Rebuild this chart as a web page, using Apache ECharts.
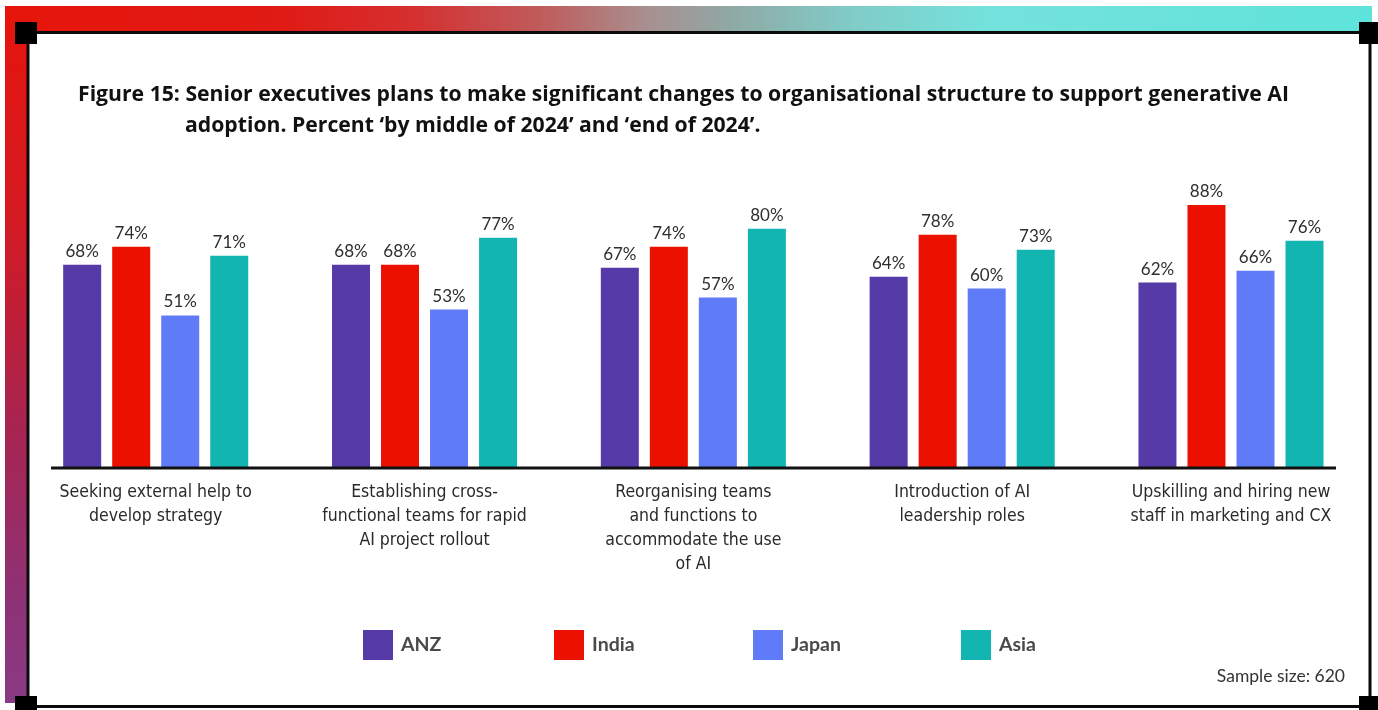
<!DOCTYPE html>
<html>
<head>
<meta charset="utf-8">
<script src="https://cdn.jsdelivr.net/npm/echarts@6/dist/echarts.min.js"></script>
<style>
  html, body { margin: 0; padding: 0; background: #fff; }
  #chart { width: 1378px; height: 710px; }
</style>
</head>
<body>
<div id="chart"></div>
<script>
// Organisational changes planned for generative AI adoption, by market
const categories = [
  'Seeking external help to\ndevelop strategy',
  'Establishing cross-\nfunctional teams for rapid\nAI project rollout',
  'Reorganising teams\nand functions to\naccommodate the use\nof AI',
  'Introduction of AI\nleadership roles',
  'Upskilling and hiring new\nstaff in marketing and CX'
];
const seriesNames = ['ANZ', 'India', 'Japan', 'Asia'];
const anz   = [68, 68, 67, 64, 62];
const india = [74, 68, 74, 78, 88];
const japan = [51, 53, 57, 60, 66];
const asia  = [71, 77, 80, 73, 76];
const palette = ['#553AA8', '#EB1000', '#5F7BF7', '#12B5B0'];

const titleLine1 = 'Figure 15: Senior executives plans to make significant changes to organisational structure to support generative AI';
const titleLine2 = 'adoption. Percent \u2018by middle of 2024\u2019 and \u2018end of 2024\u2019.';
const footnote = 'Sample size: 620';

const chart = echarts.init(document.getElementById('chart'), null, { renderer: 'canvas' });

const valueLists = [anz, india, japan, asia];
const series = seriesNames.map((name, i) => ({
  name: name,
  type: 'bar',
  data: valueLists[i],
  barWidth: 38,
  barGap: '29%',
  itemStyle: { color: palette[i] },
  label: {
    show: true,
    position: 'top',
    distance: 5,
    formatter: '{c}%',
    fontFamily: 'Lato',
    fontSize: 17,
    color: '#2e2e2e'
  },
  z: 3
}));

// one legend entry per market, placed along the bottom row
const legendLefts = [363, 554, 753, 961];
const legends = seriesNames.map((n, i) => ({
  data: [n],
  left: legendLefts[i], top: 630,
  padding: 0,
  itemWidth: 30, itemHeight: 30,
  icon: 'rect',
  z: 10,
  selectedMode: false,
  textStyle: { fontFamily: 'Lato', fontWeight: 'bold', fontSize: 19.5, color: '#4a4a4a', padding: [0, 0, 0, 3] }
}));

const titleFont = { fontFamily: '"Open Sans"', fontWeight: 'bold', fontSize: 21.2, color: '#111' };

const option = {
  animation: false,
  backgroundColor: '#ffffff',
  title: [
    { text: titleLine1, left: 78, top: 84, padding: 0, textStyle: titleFont },
    { text: titleLine2, left: 185, top: 115, padding: 0, textStyle: titleFont }
  ],
  legend: legends,
  grid: { left: 21.3, right: 12.6, top: 169, bottom: 242, containLabel: false },
  xAxis: {
    type: 'category',
    data: categories,
    z: 10,
    axisLine: { show: false },
    axisTick: { show: false },
    axisLabel: {
      interval: 0,
      margin: 12,
      fontFamily: '"DejaVu Sans Condensed", "Liberation Sans Narrow", sans-serif',
      fontSize: 17.5,
      lineHeight: 24,
      color: '#2a2a2a',
      align: 'center'
    }
  },
  yAxis: { type: 'value', min: 0, max: 100, show: false, splitLine: { show: false } },
  series: series,
  graphic: [
    // left gradient bar
    { type: 'rect', shape: { x: 5, y: 6, width: 22, height: 697 }, z: 0,
      style: { fill: new echarts.graphic.LinearGradient(0, 0, 0, 1, [
        { offset: 0, color: '#E6140C' },
        { offset: 0.3, color: '#D41A22' },
        { offset: 0.6, color: '#A82450' },
        { offset: 0.85, color: '#8E3276' },
        { offset: 1, color: '#8A3A84' }
      ]) } },
    // top gradient bar
    { type: 'rect', shape: { x: 5, y: 6, width: 1367, height: 26 }, z: 0,
      style: { fill: new echarts.graphic.LinearGradient(0, 0, 1, 0, [
        { offset: 0, color: '#E6150B' },
        { offset: 0.2, color: '#E01A14' },
        { offset: 0.3, color: '#D53030' },
        { offset: 0.4, color: '#BE6060' },
        { offset: 0.47, color: '#A89090' },
        { offset: 0.53, color: '#90A8A4' },
        { offset: 0.62, color: '#80CCC8' },
        { offset: 0.72, color: '#74E2DC' },
        { offset: 1, color: '#5EE3DA' }
      ]) } },
    // white panel with black border
    { type: 'rect', shape: { x: 28, y: 32.5, width: 1342, height: 674 }, z: 1,
      style: { fill: '#ffffff', stroke: '#0a0a0a', lineWidth: 3 } },
    // corner squares
    { type: 'rect', shape: { x: 15, y: 22, width: 22, height: 22 }, z: 2, style: { fill: '#000' } },
    { type: 'rect', shape: { x: 1359, y: 22, width: 22, height: 22 }, z: 2, style: { fill: '#000' } },
    { type: 'rect', shape: { x: 15, y: 696, width: 22, height: 22 }, z: 2, style: { fill: '#000' } },
    { type: 'rect', shape: { x: 1359, y: 696, width: 22, height: 22 }, z: 2, style: { fill: '#000' } },
    // category baseline
    { type: 'line', shape: { x1: 51, y1: 468, x2: 1336, y2: 468 }, z: 10,
      style: { stroke: '#111', lineWidth: 3 } },
    // footnote
    { type: 'text', right: 33, top: 667, z: 10,
      style: { text: footnote, fontFamily: 'Lato', fontSize: 17.5, fill: '#333' } }
  ]
};

chart.setOption(option);
</script>
</body>
</html>
